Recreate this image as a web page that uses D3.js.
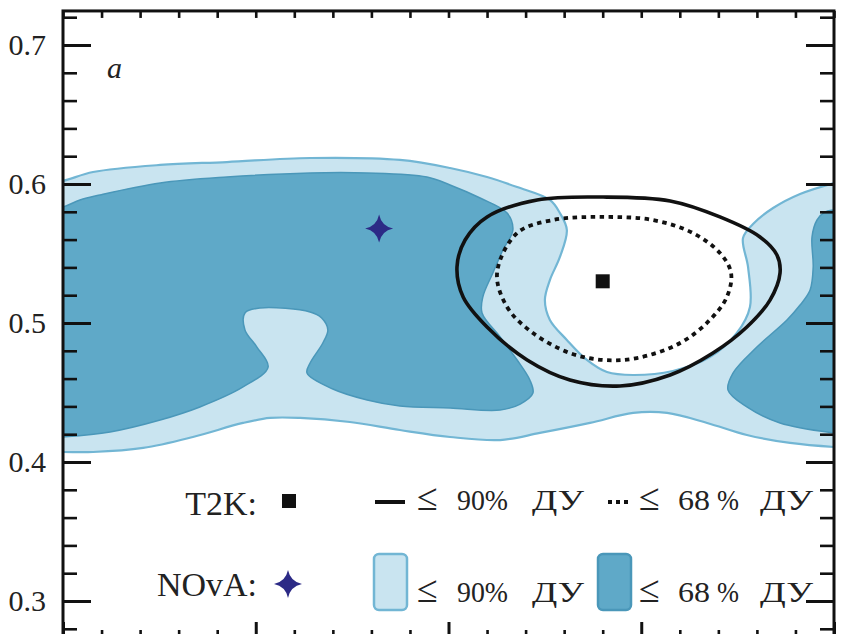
<!DOCTYPE html>
<html>
<head>
<meta charset="utf-8">
<script src="https://cdn.jsdelivr.net/npm/d3@7"></script>
<style>
  html, body { margin: 0; padding: 0; background: #fff; }
  svg { display: block; }
  svg text { font-family: "Liberation Serif", "DejaVu Serif", serif; fill: #222; }
</style>
</head>
<body>
<svg id="chart" width="841" height="634"></svg>
<script>
// Horizontal: delta_CP in units of pi; vertical: sin^2(theta_23)
const deltaDomain = [0, 2];
const s23Domain = [0.2705, 0.7245];

const yTickValues = [0.3, 0.4, 0.5, 0.6, 0.7];
const yTickLabels = ["0.3", "0.4", "0.5", "0.6", "0.7"];
const yMinorTicks = [0.28, 0.32, 0.34, 0.36, 0.38, 0.42, 0.44, 0.46, 0.48,
                     0.52, 0.54, 0.56, 0.58, 0.62, 0.64, 0.66, 0.68, 0.72];
const xMajorTicks = [0, 0.5, 1, 1.5, 2];
const xMinorTicks = [0.1, 0.2, 0.3, 0.4, 0.6, 0.7, 0.8, 0.9, 1.1, 1.2, 1.3, 1.4,
                     1.6, 1.7, 1.8, 1.9];

// NOvA allowed region, 90% C.L. (one connected band around the T2K notch);
// the contour continues past delta = 0 and 2pi and is clipped by the frame
const nova90 = [
  [0, 0.6022], [0.078, 0.6086], [0.252, 0.6137], [0.425, 0.6158], [0.641, 0.6187],
  [0.874, 0.6173], [1.004, 0.6115], [1.100, 0.6050], [1.178, 0.5978], [1.263, 0.5885],
  [1.289, 0.5791], [1.307, 0.5669], [1.289, 0.5475], [1.263, 0.5309], [1.250, 0.5165],
  [1.263, 0.5022], [1.307, 0.4878], [1.359, 0.4734], [1.411, 0.4647], [1.479, 0.4626],
  [1.582, 0.4655], [1.678, 0.4755], [1.748, 0.4928], [1.782, 0.5115], [1.777, 0.5403],
  [1.764, 0.5612], [1.790, 0.5712], [1.842, 0.5827], [1.912, 0.5928], [2.0, 0.6007],
  [2.08, 0.6060], [2.08, 0.4100],
  [2.0, 0.4108], [1.886, 0.4137], [1.774, 0.4194], [1.671, 0.4281], [1.567, 0.4353],
  [1.479, 0.4353], [1.367, 0.4281], [1.237, 0.4209], [1.134, 0.4158], [1.004, 0.4180],
  [0.874, 0.4230], [0.744, 0.4288], [0.615, 0.4317], [0.537, 0.4317], [0.467, 0.4281],
  [0.337, 0.4180], [0.208, 0.4101], [0.078, 0.4072], [0, 0.4072],
  [-0.08, 0.4072], [-0.08, 0.5980]
];

// NOvA 68% C.L., left lobe
const nova68Left = [
  [0, 0.5835], [0.044, 0.5885], [0.096, 0.5921], [0.252, 0.6007], [0.425, 0.6050],
  [0.641, 0.6079], [0.789, 0.6079], [0.944, 0.6050], [1.004, 0.5993], [1.082, 0.5899],
  [1.152, 0.5791], [1.167, 0.5669], [1.141, 0.5525], [1.115, 0.5360], [1.089, 0.5187],
  [1.087, 0.5072], [1.134, 0.4899], [1.178, 0.4734], [1.211, 0.4590], [1.219, 0.4496],
  [1.186, 0.4417], [1.134, 0.4374], [1.004, 0.4388], [0.874, 0.4403], [0.789, 0.4446],
  [0.700, 0.4525], [0.633, 0.4640], [0.641, 0.4712], [0.674, 0.4856], [0.687, 0.4950],
  [0.671, 0.5036], [0.641, 0.5079], [0.511, 0.5108], [0.472, 0.5072], [0.472, 0.4950],
  [0.503, 0.4827], [0.532, 0.4683], [0.467, 0.4540], [0.355, 0.4396], [0.252, 0.4302],
  [0.122, 0.4216], [0, 0.4180], [-0.08, 0.4170], [-0.08, 0.5790]
];

// NOvA 68% C.L., right lobe near delta = 2pi
const nova68Right = [
  [2.0, 0.5813], [1.977, 0.5799], [1.956, 0.5741], [1.943, 0.5619], [1.946, 0.5403],
  [1.938, 0.5237], [1.912, 0.5129], [1.878, 0.5022], [1.800, 0.4827], [1.738, 0.4640],
  [1.725, 0.4518], [1.774, 0.4396], [1.860, 0.4281], [2.0, 0.4209],
  [2.08, 0.4190], [2.08, 0.5830]
];

// T2K contours
const t2k90 = [
  [1.022, 0.5403], [1.038, 0.5187], [1.100, 0.4971], [1.204, 0.4734], [1.315, 0.4590],
  [1.445, 0.4547], [1.575, 0.4626], [1.686, 0.4784], [1.774, 0.4971], [1.834, 0.5165],
  [1.860, 0.5360], [1.852, 0.5489], [1.808, 0.5619], [1.704, 0.5763], [1.575, 0.5878],
  [1.401, 0.5906], [1.230, 0.5885], [1.100, 0.5763], [1.043, 0.5597]
];
const t2k68 = [
  [1.126, 0.5360], [1.152, 0.5115], [1.219, 0.4928], [1.315, 0.4784], [1.401, 0.4734],
  [1.489, 0.4748], [1.601, 0.4856], [1.678, 0.5022], [1.722, 0.5187], [1.733, 0.5360],
  [1.704, 0.5504], [1.634, 0.5647], [1.530, 0.5741], [1.401, 0.5763], [1.271, 0.5741],
  [1.178, 0.5647]
];

// Best-fit points
const t2kBest = [1.40, 0.530];
const novaBest = [0.82, 0.568];

const colors = {
  light: "#c9e4f0",
  lightEdge: "#72b6d4",
  dark: "#5fa9c8",
  darkEdge: "#4a97b9",
  star: "#2c2a86",
  ink: "#111"
};
const serif = "'Liberation Serif', 'DejaVu Serif', serif";

const svg = d3.select("#chart");
const x = d3.scaleLinear().domain(deltaDomain).range([63, 834]);
const y = d3.scaleLinear().domain([0.3, 0.7]).range([601, 45]);

const frameLeft = x(deltaDomain[0]), frameRight = x(deltaDomain[1]);
const frameTop = y(s23Domain[1]), frameBottom = y(s23Domain[0]);

svg.append("defs").append("clipPath").attr("id", "plot-clip")
  .append("rect").attr("x", frameLeft).attr("y", frameTop)
  .attr("width", frameRight - frameLeft).attr("height", frameBottom - frameTop);

const plot = svg.append("g").attr("clip-path", "url(#plot-clip)");

const area = d3.line().x(d => x(d[0])).y(d => y(d[1]))
  .curve(d3.curveCatmullRomClosed.alpha(0.5));

plot.append("path").attr("d", area(nova90))
  .attr("fill", colors.light).attr("stroke", colors.lightEdge).attr("stroke-width", 2.2);
[nova68Left, nova68Right].forEach(lobe => {
  plot.append("path").attr("d", area(lobe))
    .attr("fill", colors.dark).attr("stroke", colors.darkEdge).attr("stroke-width", 1.5);
});

plot.append("path").attr("d", area(t2k90))
  .attr("fill", "none").attr("stroke", colors.ink).attr("stroke-width", 3.6);
plot.append("path").attr("d", area(t2k68))
  .attr("fill", "none").attr("stroke", colors.ink).attr("stroke-width", 3.8)
  .attr("stroke-dasharray", "4.5 4.5");

// four-pointed star marker
function starPath(r) {
  const c = r * 0.17;
  return `M0,${-r}Q${c},${-c} ${r},0Q${c},${c} 0,${r}Q${-c},${c} ${-r},0Q${-c},${-c} 0,${-r}Z`;
}

plot.append("rect")
  .attr("x", x(t2kBest[0]) - 7).attr("y", y(t2kBest[1]) - 7)
  .attr("width", 14).attr("height", 14).attr("fill", colors.ink);
plot.append("path").attr("d", starPath(14))
  .attr("transform", `translate(${x(novaBest[0])},${y(novaBest[1])})`)
  .attr("fill", colors.star);

// axes: ticks point inward, frame drawn separately
function styleAxis(g, width) {
  g.select(".domain").remove();
  g.selectAll(".tick line").attr("stroke", colors.ink).attr("stroke-width", width);
  g.attr("font-family", serif).attr("font-size", 30);
}

svg.append("g").attr("transform", `translate(${frameLeft},0)`)
  .call(d3.axisLeft(y).tickValues(yTickValues)
    .tickFormat((d, i) => yTickLabels[i]).tickSize(-28).tickPadding(17))
  .call(g => styleAxis(g, 3))
  .call(g => g.selectAll("text")
    .style("font-family", serif).style("font-size", "30px").style("fill", "#222"));
svg.append("g").attr("transform", `translate(${frameLeft},0)`)
  .call(d3.axisLeft(y).tickValues(yMinorTicks).tickFormat("").tickSize(-14))
  .call(g => styleAxis(g, 2.6));
svg.append("g").attr("transform", `translate(${frameRight},0)`)
  .call(d3.axisRight(y).tickValues(yTickValues).tickFormat("").tickSize(-28))
  .call(g => styleAxis(g, 3));
svg.append("g").attr("transform", `translate(${frameRight},0)`)
  .call(d3.axisRight(y).tickValues(yMinorTicks).tickFormat("").tickSize(-14))
  .call(g => styleAxis(g, 2.6));
svg.append("g").attr("transform", `translate(0,${frameTop})`)
  .call(d3.axisTop(x).tickValues(xMajorTicks.concat(xMinorTicks)).tickFormat("").tickSize(-7))
  .call(g => styleAxis(g, 2.6));
svg.append("g").attr("transform", `translate(0,${frameBottom})`)
  .call(d3.axisBottom(x).tickValues(xMajorTicks).tickFormat("").tickSize(-20))
  .call(g => styleAxis(g, 3));
svg.append("g").attr("transform", `translate(0,${frameBottom})`)
  .call(d3.axisBottom(x).tickValues(xMinorTicks).tickFormat("").tickSize(-12))
  .call(g => styleAxis(g, 2.6));

svg.append("rect").attr("x", frameLeft).attr("y", frameTop)
  .attr("width", frameRight - frameLeft).attr("height", frameBottom - frameTop)
  .attr("fill", "none").attr("stroke", colors.ink).attr("stroke-width", 3);

// panel letter
svg.append("text").attr("x", 107).attr("y", 78).style("font-size", "30px")
  .style("font-style", "italic").text("a");

// legend
const legend = svg.append("g");
legend.append("text").attr("x", 257).attr("y", 515).attr("text-anchor", "end")
  .style("font-size", "34px").text("T2K:");
legend.append("text").attr("x", 257).attr("y", 596).attr("text-anchor", "end")
  .style("font-size", "34px").text("NOvA:");
legend.append("rect").attr("x", 282).attr("y", 494).attr("width", 14).attr("height", 14)
  .attr("fill", colors.ink);
legend.append("path").attr("d", starPath(14)).attr("transform", "translate(288,584)")
  .attr("fill", colors.star);

legend.append("line").attr("x1", 375).attr("x2", 405).attr("y1", 502).attr("y2", 502)
  .attr("stroke", colors.ink).attr("stroke-width", 4);
legend.append("line").attr("x1", 608).attr("x2", 632).attr("y1", 502).attr("y2", 502)
  .attr("stroke", colors.ink).attr("stroke-width", 4).attr("stroke-dasharray", "4 4");
legend.append("rect").attr("x", 374).attr("y", 554).attr("width", 33).attr("height", 56)
  .attr("rx", 5).attr("fill", colors.light).attr("stroke", colors.lightEdge).attr("stroke-width", 2.5);
legend.append("rect").attr("x", 598).attr("y", 554).attr("width", 33).attr("height", 56)
  .attr("rx", 5).attr("fill", colors.dark).attr("stroke", colors.darkEdge).attr("stroke-width", 2.5);

// confidence-level labels, set piece by piece like typeset math
function clLabel(x0, base, pieces) {
  pieces.forEach(([dx, txt, size, width]) => {
    const t = legend.append("text").attr("x", x0 + dx).attr("y", base)
      .style("font-size", size + "px").text(txt);
    if (width) t.attr("textLength", width).attr("lengthAdjust", "spacingAndGlyphs");
  });
}
[510, 602].forEach(base => {
  clLabel(417, base, [[0, "≤", 38], [40, "90%", 30, 51], [115, "ДУ", 30, 52]]);
  clLabel(639, base, [[0, "≤", 38], [39, "68", 30, 32], [78, "%", 30, 22], [121, "ДУ", 30, 53]]);
});
</script>
</body>
</html>
